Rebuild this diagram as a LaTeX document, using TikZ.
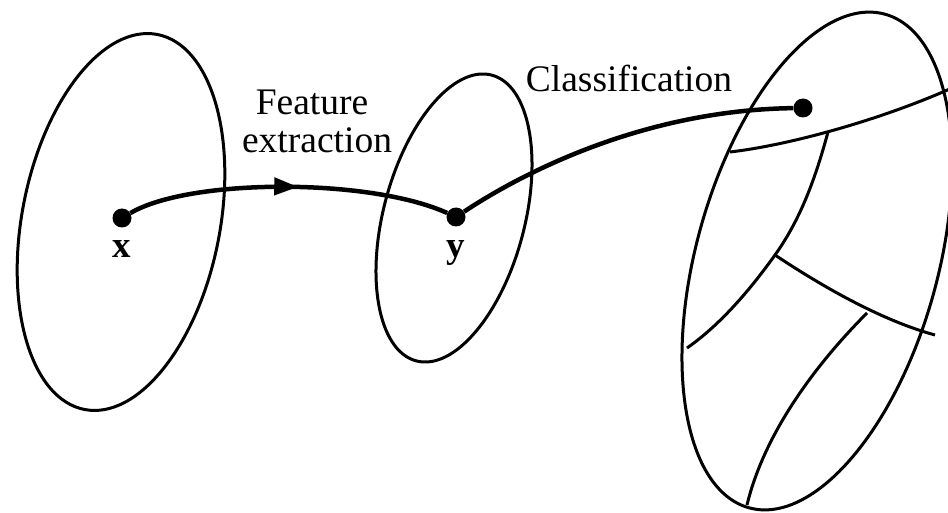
\documentclass[tikz,border=0pt]{standalone}
\usepackage{fontspec}
\setmainfont{Liberation Serif}
\usetikzlibrary{arrows.meta,decorations.markings}
\begin{document}
\begin{tikzpicture}[x=1pt,y=-1pt,
  region/.style={line width=3pt},
  boundary/.style={line width=3pt},
  mapping/.style={line width=4.5pt},
  dot/.style={circle,fill=black,inner sep=0pt,minimum size=19pt},
  lbl/.style={font=\fontsize{37.5}{38}\selectfont,inner sep=0pt,anchor=base},
  vec/.style={font=\fontsize{37}{38}\selectfont\bfseries,inner sep=0pt,anchor=base},
  midarrow/.style={decoration={markings,mark=at position #1 with {\arrow{Triangle[length=24pt,width=17pt]}}},postaction=decorate}]
\useasboundingbox (0,0) rectangle (948,513);
% spaces
\draw[region, rotate around={-11:(121,222)}] (121,222) ellipse [x radius=99pt, y radius=191pt];
\draw[region, rotate around={-14.8:(454,218)}] (454,218) ellipse [x radius=70.6pt, y radius=147.8pt];
\draw[region, rotate around={-15.4:(817,261)}] (817,261) ellipse [x radius=121pt, y radius=256pt];
% decision boundaries
\draw[boundary] (730,152) .. controls (790,145) and (880,120) .. (952,88);
\draw[boundary] (828,132) .. controls (815,180) and (800,220) .. (775,255) .. controls (750,290) and (720,325) .. (687,348);
\draw[boundary] (775,255) .. controls (820,285) and (880,320) .. (935,335);
\draw[boundary] (867,313) .. controls (820,360) and (765,430) .. (747,505);
% points
\node[dot] (px) at (122,218) {};
\node[dot] (py) at (456,217) {};
\node[dot] (pc) at (803,108) {};
\node[vec] (lx) at (122,258) {x};
\node[vec] (ly) at (456,258) {y};
% mappings
\draw[mapping, midarrow=0.53] (px) .. controls (190,178) and (370,178) .. (py);
\draw[mapping] (py) .. controls (530,168) and (650,110) .. (pc);
% labels
\node[lbl] (feat1) at (312,115) {Feature};
\node[lbl] (feat2) at (317,153) {extraction};
\node[lbl] (cls) at (629,92) {Classification};
\end{tikzpicture}
\end{document}
